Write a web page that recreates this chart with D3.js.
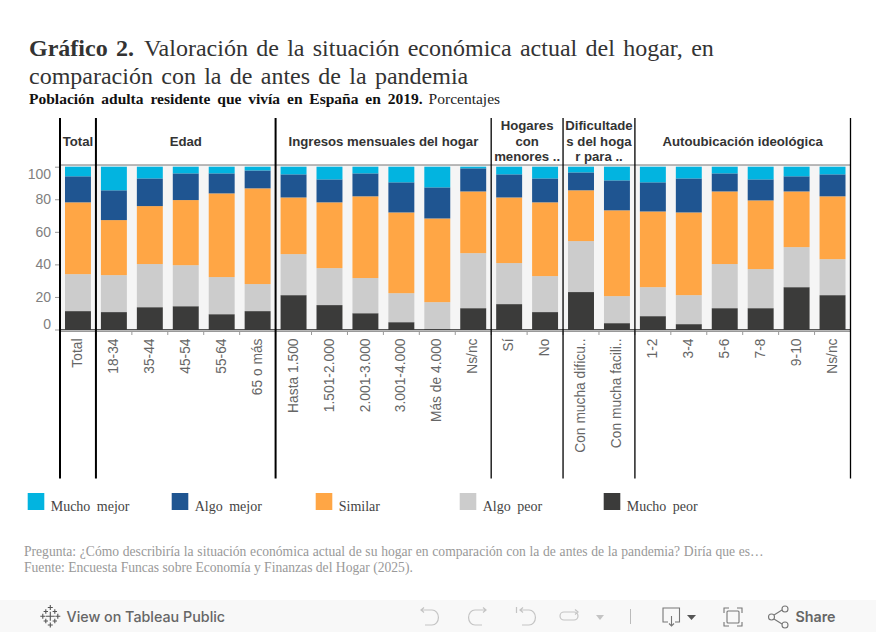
<!DOCTYPE html>
<html lang="es">
<head>
<meta charset="UTF-8">
<title>Gráfico 2</title>
<style>
  html, body { margin: 0; padding: 0; background: #fff; }
  svg { display: block; }
</style>
</head>
<body>
<svg id="svg" width="876" height="632"></svg>
<script src="https://d3js.org/d3.v7.min.js"></script>
<script>
const categories = ["Total", "18-34", "35-44", "45-54", "55-64", "65 o más",
  "Hasta 1.500", "1.501-2.000", "2.001-3.000", "3.001-4.000", "Más de 4.000", "Ns/nc",
  "Sí", "No", "Con mucha dificu..", "Con mucha facili..",
  "1-2", "3-4", "5-6", "7-8", "9-10", "Ns/nc"]
const muchoPeor = [11.3, 10.7, 13.7, 14.3, 9.4, 11.3, 21.1, 15.0, 10.0, 4.5, 0.2, 13.1, 15.6, 10.7, 23.0, 3.9, 8.2, 3.3, 13.1, 13.1, 26.0, 21.1]
const algoPeor = [22.7, 22.7, 26.5, 25.2, 22.8, 16.6, 25.2, 22.7, 21.6, 17.8, 16.6, 33.8, 25.2, 22.1, 31.3, 16.6, 17.8, 17.8, 27.1, 24.0, 24.6, 22.1]
const similar = [44.1, 33.8, 35.6, 40.0, 51.4, 58.8, 34.8, 40.4, 50.2, 49.6, 51.4, 37.9, 40.3, 45.3, 31.2, 52.7, 46.5, 50.8, 44.6, 42.2, 34.2, 38.6]
const algoMejor = [16.0, 18.3, 17.0, 16.4, 12.3, 11.0, 14.2, 14.1, 14.1, 18.5, 19.1, 14.2, 14.2, 14.7, 11.0, 18.4, 17.9, 20.9, 11.1, 12.9, 9.3, 13.5]
const muchoMejor = [5.9, 14.5, 7.2, 4.1, 4.1, 2.3, 4.7, 7.8, 4.1, 9.6, 12.7, 1.0, 4.7, 7.2, 3.5, 8.4, 9.6, 7.2, 4.1, 7.8, 5.9, 4.7]
const seriesNames = ["Mucho peor", "Algo peor", "Similar", "Algo mejor", "Mucho mejor"]
const seriesValues = [muchoPeor, algoPeor, similar, algoMejor, muchoMejor]
const legendOrder = ["Mucho mejor", "Algo mejor", "Similar", "Algo peor", "Mucho peor"]
const colors = ["#3b3b3a", "#cccccc", "#ffa645", "#1f5591", "#02b4e0"]
const panelNames = [["Total"], ["Edad"], ["Ingresos mensuales del hogar"], ["Hogares", "con", "menores .."],
  ["Dificultade", "s del hoga", "r para .."], ["Autoubicación ideológica"]]
const panelSizes = [1, 5, 6, 2, 2, 6]
const yTicks = [0, 20, 40, 60, 80, 100]

const svg = d3.select("svg#svg")
const serif = "'Liberation Serif', serif"
const sans = "'Liberation Sans', sans-serif"

// titulos
const title1 = svg.append("text").attr("x", 29).attr("y", 56)
  .attr("font-family", serif).attr("font-size", 24).attr("fill", "#333").attr("word-spacing", 2.3)
title1.append("tspan").attr("font-weight", "bold").text("Gráfico 2.")
title1.append("tspan").attr("dx", 10).text("Valoración de la situación económica actual del hogar, en")
svg.append("text").attr("x", 29).attr("y", 84)
  .attr("font-family", serif).attr("font-size", 24).attr("fill", "#333").attr("word-spacing", 2.3)
  .text("comparación con la de antes de la pandemia")
const sub = svg.append("text").attr("x", 29).attr("y", 104)
  .attr("font-family", serif).attr("font-size", 15.5).attr("fill", "#222").attr("word-spacing", 3)
sub.append("tspan").attr("font-weight", "bold").attr("fill", "#111").text("Población adulta residente que vivía en España en 2019.")
sub.append("tspan").attr("dx", 6).text("Porcentajes")

// escalas
const plotTop = 166.7, plotBottom = 329.5, plotLeft = 60, plotRight = 850.5
const x = d3.scaleBand().domain(d3.range(categories.length)).range([plotLeft, plotRight]).paddingInner(0.278).paddingOuter(0.139)
const y = d3.scaleLinear().domain([0, 100]).range([plotBottom, plotTop])
const step = x.step()

const rows = categories.map((c, i) => {
  const r = { i: i }
  seriesNames.forEach((s, k) => { r[s] = seriesValues[k][i] })
  return r
})
const stacked = d3.stack().keys(seriesNames)(rows)
const color = d3.scaleOrdinal().domain(seriesNames).range(colors)

// fondo
svg.append("rect").attr("x", plotLeft).attr("y", 165).attr("width", plotRight - plotLeft).attr("height", plotBottom - 165).attr("fill", "#f5f5f5")

// barras
svg.append("g").selectAll("g").data(stacked).join("g").attr("fill", d => color(d.key))
  .selectAll("rect").data(d => d).join("rect")
  .attr("x", d => x(d.data.i))
  .attr("y", d => y(d[1]))
  .attr("width", x.bandwidth())
  .attr("height", d => y(d[0]) - y(d[1]))

// eje y
const yAxis = d3.axisLeft(y).tickValues(yTicks).tickSize(5).tickPadding(4)
const gy = svg.append("g").attr("transform", `translate(${plotLeft},0)`).call(yAxis)
gy.select(".domain").remove()
gy.selectAll("line").attr("stroke", "#999")
gy.selectAll("text").attr("font-family", sans).attr("font-size", 14).attr("fill", "#808080")
  .attr("dy", d => d === 100 ? "0.82em" : d === 0 ? "-0.1em" : "0.32em")

// lineas horizontales
svg.append("line").attr("x1", plotLeft).attr("x2", plotRight).attr("y1", 165).attr("y2", 165).attr("stroke", "#777").attr("stroke-width", 1.2)
svg.append("line").attr("x1", plotLeft).attr("x2", plotRight).attr("y1", 329.8).attr("y2", 329.8).attr("stroke", "#111").attr("stroke-width", 1)
svg.append("line").attr("x1", plotLeft).attr("x2", plotRight).attr("y1", 331.5).attr("y2", 331.5).attr("stroke", "#999").attr("stroke-width", 1)

// eje x
const xAxis = d3.axisBottom(x).tickSize(0).tickFormat(i => categories[i])
const gx = svg.append("g").attr("transform", "translate(0,331.5)").call(xAxis)
gx.select(".domain").remove()
gx.selectAll("text")
  .attr("font-family", sans).attr("font-size", 13.8).attr("fill", "#666")
  .attr("text-anchor", "end").attr("transform", "rotate(-90)")
  .attr("x", -7).attr("y", 0).attr("dy", "0.3em")
svg.append("g").selectAll("line").data(d3.range(1, categories.length)).join("line")
  .attr("x1", d => plotLeft + d * step).attr("x2", d => plotLeft + d * step)
  .attr("y1", 331.5).attr("y2", 335).attr("stroke", "#999")

// paneles
let acc = 0
const panels = panelNames.map((lines, k) => {
  const p = { lines: lines, start: acc, end: acc + panelSizes[k] }
  acc += panelSizes[k]
  return p
})
const edges = [0].concat(panels.map(p => p.end))
svg.append("g").selectAll("line").data(edges).join("line")
  .attr("x1", d => plotLeft + d * step).attr("x2", d => plotLeft + d * step)
  .attr("y1", 118).attr("y2", 478.5)
  .attr("stroke", "#000")
  .attr("stroke-width", (d, i) => i < 3 ? 2 : 1.3)

const head = svg.append("g").selectAll("text").data(panels).join("text")
  .attr("text-anchor", "middle")
  .attr("font-family", sans).attr("font-size", 13.2).attr("font-weight", "bold").attr("fill", "#333")
head.selectAll("tspan").data(d => d.lines.map((l, i) => ({ l: l, i: i, n: d.lines.length, c: plotLeft + step * (d.start + d.end) / 2 })))
  .join("tspan")
  .attr("x", d => d.c)
  .attr("y", d => 141 + (d.i - (d.n - 1) / 2) * 15.5 + 4.5)
  .text(d => d.l)

// leyenda
const legend = svg.append("g").selectAll("g").data(legendOrder).join("g")
  .attr("transform", (d, i) => `translate(${27.7 + i * 144},493)`)
legend.append("rect").attr("width", 16.6).attr("height", 17).attr("fill", d => color(d))
legend.append("text").attr("x", 23).attr("y", 18)
  .attr("font-family", serif).attr("font-size", 14).attr("fill", "#444").attr("word-spacing", 3)
  .text(d => d)

// notas
svg.append("text").attr("x", 24).attr("y", 556)
  .attr("font-family", serif).attr("font-size", 13.6).attr("fill", "#999").attr("word-spacing", 0.3)
  .text("Pregunta: ¿Cómo describiría la situación económica actual de su hogar en comparación con la de antes de la pandemia? Diría que es…")
svg.append("text").attr("x", 24).attr("y", 572)
  .attr("font-family", serif).attr("font-size", 13.6).attr("fill", "#999")
  .text("Fuente: Encuesta Funcas sobre Economía y Finanzas del Hogar (2025).")

// barra de tableau
const footer = svg.append("g")
footer.append("rect").attr("x", 0).attr("y", 600).attr("width", 876).attr("height", 32).attr("fill", "#f8f8f8")
const logo = [[50.3, 607.5, 2.5], [50.3, 616.2, 4.5], [50.3, 625, 2.5], [42.8, 616.2, 2.5], [57.8, 616.2, 2.5], [45.8, 611.5, 2.2], [54.8, 611.5, 2.2], [45.8, 621, 2.2], [54.8, 621, 2.2]]
footer.append("path").attr("stroke", "#555").attr("stroke-width", 1.1).attr("fill", "none")
  .attr("d", logo.map(c => `M${c[0] - c[2]},${c[1]}H${c[0] + c[2]}M${c[0]},${c[1] - c[2]}V${c[1] + c[2]}`).join(""))
footer.append("text").attr("x", 66.5).attr("y", 622).attr("font-family", "Inter, sans-serif").attr("font-size", 14.3).attr("font-weight", 500).attr("fill", "#666").text("View on Tableau Public")
const light = footer.append("g").attr("fill", "none").attr("stroke", "#c4c4c4").attr("stroke-width", 1.2)
light.append("path").attr("d", "M421,610H432a6,7 0 0 1 0,15H425M424,607.5L421,610L424,612.5")
light.append("path").attr("d", "M486,610H475a6,7 0 0 0 0,15H482M483,607.5L486,610L483,612.5")
light.append("path").attr("d", "M520,610H529a6,7 0 0 1 0,15H522M523,607.5L520,610L523,612.5M516.5,607V613")
light.append("path").attr("d", "M574,612H564a4,4 0 0 0 0,8H574a4,4 0 0 0 0,-8M575,609.5L578,612L575,614.5")
footer.append("path").attr("d", "M596,615H604L600,620Z").attr("fill", "#c4c4c4")
footer.append("line").attr("x1", 630.5).attr("x2", 630.5).attr("y1", 609).attr("y2", 624).attr("stroke", "#bbb")
const dark = footer.append("g").attr("fill", "none").attr("stroke", "#777").attr("stroke-width", 1.1)
dark.append("path").attr("d", "M668,622H663V608H679.5V622H675M671.5,616V626M669,623.5L671.5,626L674,623.5")
footer.append("path").attr("d", "M687,615H696L691.5,620Z").attr("fill", "#555")
dark.append("path").attr("d", "M724,613V608H729M737,608H742V613M742,622V626H737M729,626H724V622")
dark.append("rect").attr("x", 727).attr("y", 611).attr("width", 12).attr("height", 12).attr("rx", 1)
dark.append("path").attr("d", "M774,615L782,610M774,619L782,624")
dark.selectAll("circle").data([[771.5, 617], [785, 609], [785, 625]]).join("circle")
  .attr("cx", d => d[0]).attr("cy", d => d[1]).attr("r", 3)
footer.append("text").attr("x", 795.5).attr("y", 622).attr("font-family", "Inter, sans-serif").attr("font-size", 14.3).attr("font-weight", 600).attr("fill", "#666").text("Share")
</script>
</body>
</html>
